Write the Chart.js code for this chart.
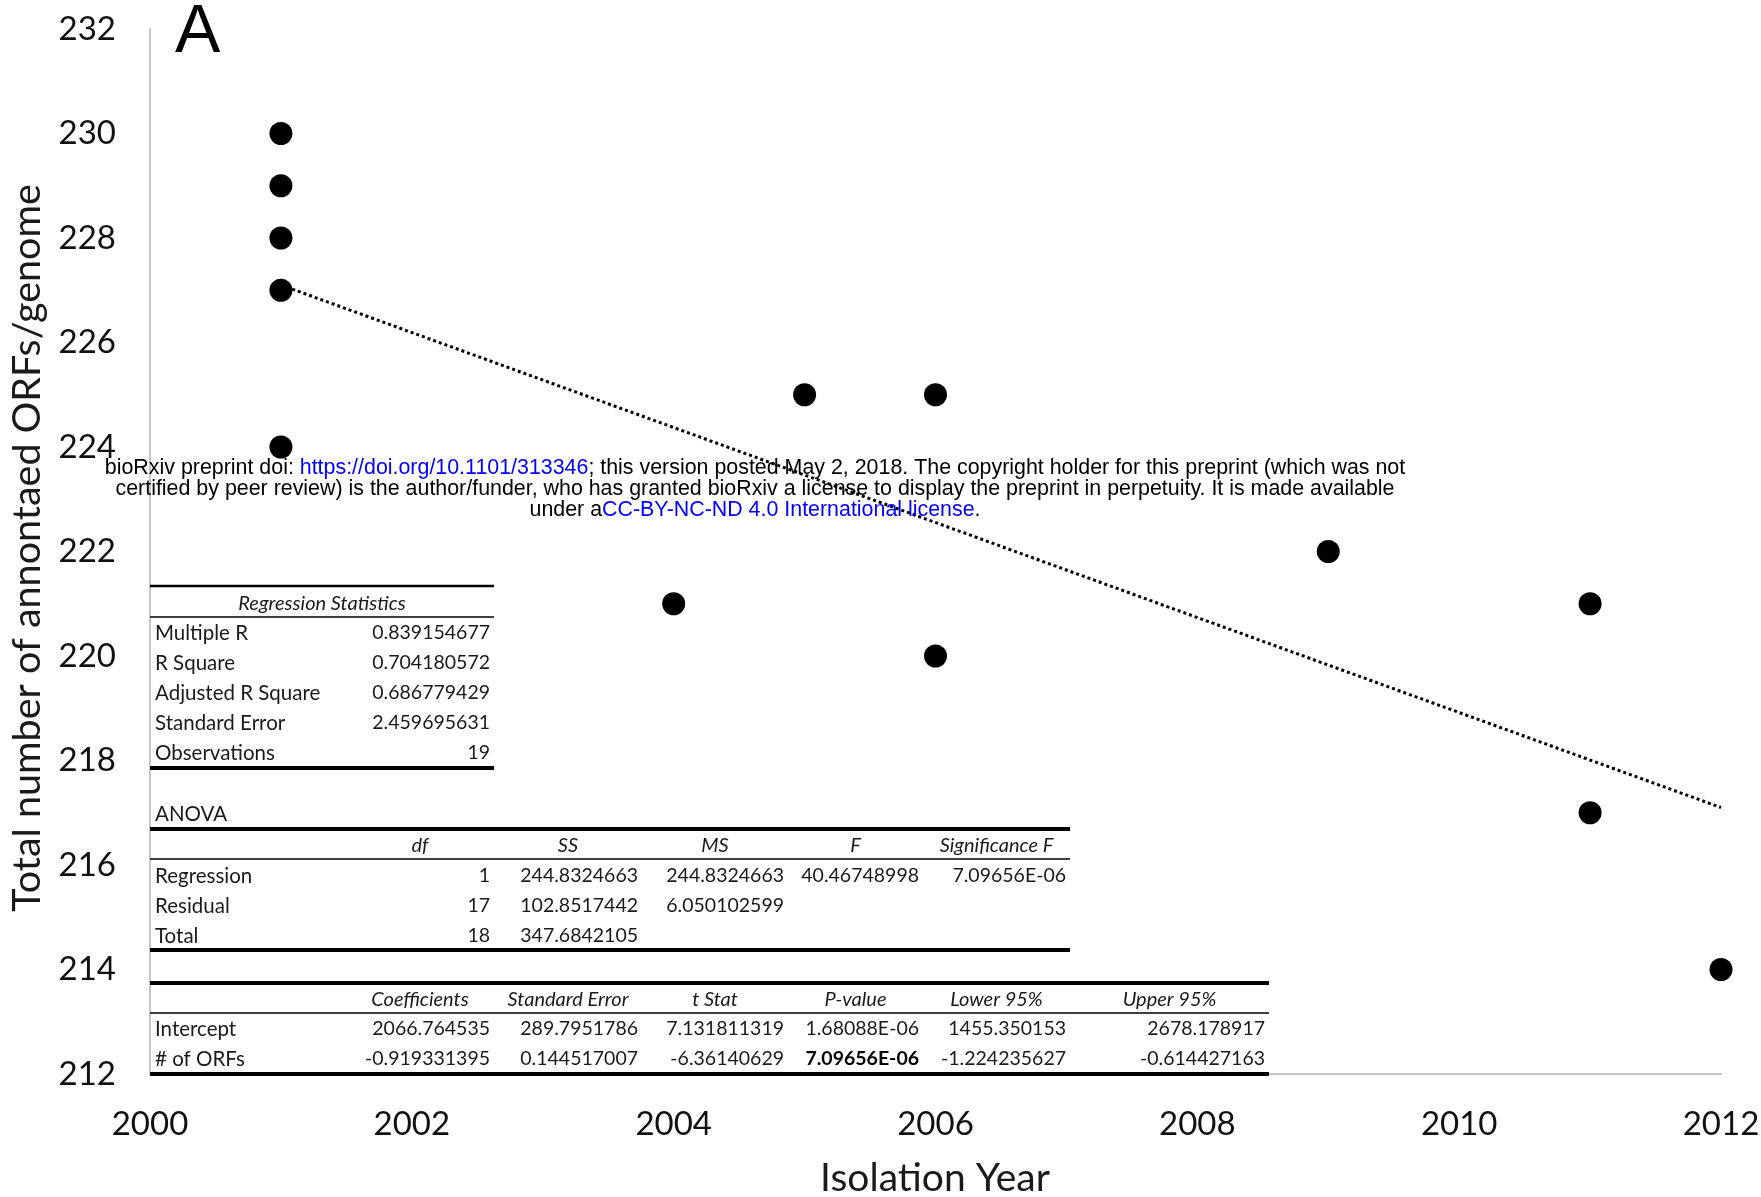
<!DOCTYPE html>
<html>
<head>
<meta charset="utf-8">
<title>ORFs per genome by isolation year</title>
<script src="https://cdn.jsdelivr.net/npm/chart.js@4.4.1/dist/chart.umd.min.js"></script>
<style>
  html, body { margin: 0; padding: 0; background: #fff; }
  #wrap { width: 1761px; height: 1197px; }
</style>
</head>
<body>
<div id="wrap"><canvas id="orfChart" width="1761" height="1197"></canvas></div>
<script>
// isolates: year of isolation vs. annotated ORF count
const isolationYears = [2001, 2001, 2001, 2001, 2001, 2004, 2005, 2006, 2006, 2009, 2011, 2011, 2012];
const orfCounts      = [230, 229, 228, 227, 224, 221, 225, 225, 220, 222, 221, 217, 214];

// linear trendline end points
const trendYears = [2001, 2012];
const trendOrfs  = [227.1, 217.1];

const xTicks = [2000, 2002, 2004, 2006, 2008, 2010, 2012];
const yTicks = [212, 214, 216, 218, 220, 222, 224, 226, 228, 230, 232];

const panelLetter = 'A';
const xTitle = 'Isolation Year';
const yTitle = 'Total number of annontaed ORFs/genome';

// regression output tables
const regStatsTitle = 'Regression Statistics';
const regStatsRows = [
  ['Multiple R', '0.839154677'],
  ['R Square', '0.704180572'],
  ['Adjusted R Square', '0.686779429'],
  ['Standard Error', '2.459695631'],
  ['Observations', '19']
];
const anovaTitle = 'ANOVA';
const anovaHeader = ['', 'df', 'SS', 'MS', 'F', 'Significance F'];
const anovaRows = [
  ['Regression', '1', '244.8324663', '244.8324663', '40.46748998', '7.09656E-06'],
  ['Residual', '17', '102.8517442', '6.050102599', '', ''],
  ['Total', '18', '347.6842105', '', '', '']
];
const coefHeader = ['', 'Coefficients', 'Standard Error', 't Stat', 'P-value', 'Lower 95%', 'Upper 95%'];
const coefRows = [
  ['Intercept', '2066.764535', '289.7951786', '7.131811319', '1.68088E-06', '1455.350153', '2678.178917'],
  ['# of ORFs', '-0.919331395', '0.144517007', '-6.36140629', '7.09656E-06', '-1.224235627', '-0.614427163']
];
const coefBold = [[1, 4]];

// preprint notice lines: [text, colour] pieces
const noticeLines = [
  [['bioRxiv preprint doi: ', '#000'], ['https://doi.org/10.1101/313346', '#0000ff'],
   ['; this version posted May 2, 2018. The copyright holder for this preprint (which was not', '#000']],
  [['certified by peer review) is the author/funder, who has granted bioRxiv a license to display the preprint in perpetuity. It is made available', '#000']],
  [['under a', '#000'], ['CC-BY-NC-ND 4.0 International license', '#0000ff'], ['.', '#000']]
];

const points = isolationYears.map((yr, i) => ({ x: yr, y: orfCounts[i] }));
const trend = trendYears.map((yr, i) => ({ x: yr, y: trendOrfs[i] }));

const tableFont = "19.5px Lato";
const labelFont = "20.5px Lato";
const tableFontItalic = "italic 20px Lato";
const tableFontBold = "bold 19.5px Lato";
const colEdges = [150, 346, 494, 642, 788, 923, 1070, 1269];

function hLine(ctx, x1, x2, y, w) {
  ctx.fillRect(x1, y - w / 2, x2 - x1, w);
}

function cellText(ctx, text, col, y, align, font) {
  if (!text) return;
  ctx.font = font;
  ctx.textAlign = align;
  let x;
  if (align === 'left') x = colEdges[col] + 5;
  else if (align === 'right') x = colEdges[col + 1] - 4;
  else x = (colEdges[col] + colEdges[col + 1]) / 2;
  ctx.fillText(text, x, y);
}

const tablesPlugin = {
  id: 'regressionTables',
  afterDatasetsDraw(chart) {
    const ctx = chart.ctx;
    ctx.save();
    ctx.fillStyle = '#000';
    ctx.textBaseline = 'middle';

    // Regression Statistics
    hLine(ctx, colEdges[0], colEdges[2], 586, 2.5);
    ctx.font = tableFontItalic;
    ctx.textAlign = 'center';
    ctx.fillStyle = '#1a1a1a';
    ctx.fillText(regStatsTitle, (colEdges[0] + colEdges[2]) / 2, 604);
    ctx.fillStyle = '#000';
    hLine(ctx, colEdges[0], colEdges[2], 617, 1.5);
    ctx.fillStyle = '#1a1a1a';
    regStatsRows.forEach((row, i) => {
      const y = 633 + i * 30;
      cellText(ctx, row[0], 0, y, 'left', labelFont);
      cellText(ctx, row[1], 1, y, 'right', tableFont);
    });
    ctx.fillStyle = '#000';
    hLine(ctx, colEdges[0], colEdges[2], 768, 4);

    // ANOVA
    ctx.fillStyle = '#1a1a1a';
    cellText(ctx, anovaTitle, 0, 814, 'left', labelFont);
    ctx.fillStyle = '#000';
    hLine(ctx, colEdges[0], colEdges[6], 829, 4);
    ctx.fillStyle = '#1a1a1a';
    anovaHeader.forEach((h, c) => cellText(ctx, h, c, 846, 'center', tableFontItalic));
    ctx.fillStyle = '#000';
    hLine(ctx, colEdges[0], colEdges[6], 859, 1.5);
    ctx.fillStyle = '#1a1a1a';
    anovaRows.forEach((row, r) => {
      const y = 876 + r * 30;
      row.forEach((v, c) => cellText(ctx, v, c, y, c === 0 ? 'left' : 'right', c === 0 ? labelFont : tableFont));
    });
    ctx.fillStyle = '#000';
    hLine(ctx, colEdges[0], colEdges[6], 950, 4);

    // coefficients
    hLine(ctx, colEdges[0], colEdges[7], 983, 4);
    ctx.fillStyle = '#1a1a1a';
    coefHeader.forEach((h, c) => cellText(ctx, h, c, 1000, 'center', tableFontItalic));
    ctx.fillStyle = '#000';
    hLine(ctx, colEdges[0], colEdges[7], 1013, 1.5);
    coefRows.forEach((row, r) => {
      const y = 1029 + r * 30;
      row.forEach((v, c) => {
        const bold = coefBold.some(b => b[0] === r && b[1] === c);
        ctx.fillStyle = bold ? '#000' : '#1a1a1a';
        const font = bold ? tableFontBold : (c === 0 ? labelFont : tableFont);
        cellText(ctx, v, c, y, c === 0 ? 'left' : 'right', font);
      });
    });
    ctx.fillStyle = '#000';
    hLine(ctx, colEdges[0], colEdges[7], 1074, 4);
    ctx.restore();
  },
  afterDraw(chart) {
    const ctx = chart.ctx;
    ctx.save();

    // panel letter
    ctx.fillStyle = '#000';
    ctx.font = "68px 'Liberation Sans'";
    ctx.textAlign = 'left';
    ctx.textBaseline = 'alphabetic';
    ctx.fillText(panelLetter, 175, 52);

    // axis titles
    ctx.fillStyle = '#1a1a1a';
    ctx.font = '39px Lato';
    ctx.textAlign = 'center';
    ctx.textBaseline = 'middle';
    ctx.fillText(xTitle, 935, 1178);
    ctx.save();
    ctx.translate(27, 548);
    ctx.rotate(-Math.PI / 2);
    ctx.font = '39.5px Lato';
    ctx.fillText(yTitle, 0, 0);
    ctx.restore();

    // preprint notice
    ctx.font = "21.4px 'Liberation Sans'";
    ctx.textAlign = 'left';
    ctx.textBaseline = 'middle';
    const lineY = [468, 489, 510];
    noticeLines.forEach((pieces, i) => {
      const total = pieces.reduce((s, p) => s + ctx.measureText(p[0]).width, 0);
      let x = 755 - total / 2;
      pieces.forEach(p => {
        ctx.fillStyle = p[1];
        ctx.fillText(p[0], x, lineY[i]);
        x += ctx.measureText(p[0]).width;
      });
    });
    ctx.restore();
  }
};

// invisible tick marks push the labels off the axis without widening the
// scale padding that Chart.js derives from ticks.padding
const hiddenGrid = (len) => ({
  display: true,
  drawOnChartArea: false,
  drawTicks: true,
  tickLength: len,
  color: 'rgba(0,0,0,0)',
  tickColor: 'rgba(0,0,0,0)'
});

new Chart(document.getElementById('orfChart'), {
  type: 'scatter',
  data: {
    datasets: [
      {
        label: 'ORFs',
        data: points,
        clip: false,
        pointRadius: 11.5,
        pointHoverRadius: 11.5,
        pointBackgroundColor: '#000',
        pointBorderColor: '#000',
        pointBorderWidth: 0
      },
      {
        type: 'line',
        label: 'Linear trend',
        data: trend,
        clip: false,
        showLine: true,
        pointRadius: 0,
        borderColor: '#000',
        borderWidth: 3,
        borderDash: [3, 3],
        fill: false
      }
    ]
  },
  options: {
    responsive: false,
    animation: false,
    devicePixelRatio: 1,
    layout: { autoPadding: false, padding: { top: 29, right: 40, left: 0, bottom: 0 } },
    plugins: {
      legend: { display: false },
      tooltip: { enabled: false }
    },
    scales: {
      x: {
        type: 'linear',
        min: 2000,
        max: 2012,
        afterBuildTicks: scale => { scale.ticks = xTicks.map(v => ({ value: v })); },
        afterFit: scale => { scale.height = 123; },
        grid: hiddenGrid(31),
        border: { display: true, color: '#c6c6c6', width: 2 },
        ticks: {
          padding: 0,
          color: '#111',
          font: { family: 'Lato', size: 33 },
          maxRotation: 0,
          callback: v => String(v)
        }
      },
      y: {
        type: 'linear',
        min: 212,
        max: 232,
        afterBuildTicks: scale => { scale.ticks = yTicks.map(v => ({ value: v })); },
        afterFit: scale => { scale.width = 150; },
        grid: hiddenGrid(34),
        border: { display: true, color: '#c6c6c6', width: 2 },
        ticks: {
          padding: 0,
          color: '#111',
          font: { family: 'Lato', size: 33 },
          callback: v => String(v)
        }
      }
    }
  },
  plugins: [tablesPlugin]
});
</script>
</body>
</html>
